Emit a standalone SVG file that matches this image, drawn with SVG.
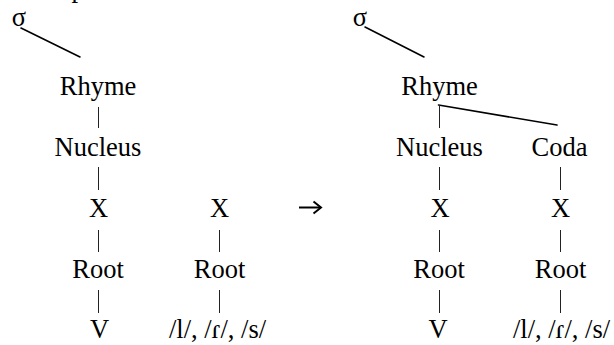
<svg xmlns="http://www.w3.org/2000/svg" width="614" height="345" viewBox="0 0 614 345">
<style>
text{font-family:'Liberation Serif','Times New Roman','DejaVu Serif',serif;font-size:26.5px;fill:#000;text-anchor:middle}
.bar{stroke:#222;stroke-width:1}
.ln{stroke:#000;stroke-width:1.6;stroke-linecap:round}
</style>
<rect width="614" height="345" fill="#fff"/>
<text x="78" y="-3.5">p</text>
<g id="left-tree">
<g id="l-sigma"><text x="19" y="26">σ</text></g>
<g id="l-rhyme"><text x="98" y="95">Rhyme</text></g>
<g id="l-nucleus"><text x="98" y="156">Nucleus</text></g>
<g id="l-x1"><text x="98.5" y="217">X</text></g>
<g id="l-root1"><text x="98" y="278">Root</text></g>
<g id="l-v"><text x="99.5" y="338">V</text></g>
<g id="l-x2"><text x="219.5" y="217">X</text></g>
<g id="l-root2"><text x="219.5" y="278">Root</text></g>
<g id="l-seg"><text x="217.5" y="338">/l/, /ɾ/, /s/</text></g>
</g>
<g id="right-tree">
<g id="r-sigma"><text x="360" y="26">σ</text></g>
<g id="r-rhyme"><text x="439.5" y="95">Rhyme</text></g>
<g id="r-nucleus"><text x="439.5" y="156">Nucleus</text></g>
<g id="r-coda"><text x="559.5" y="156">Coda</text></g>
<g id="r-x1"><text x="440" y="217">X</text></g>
<g id="r-root1"><text x="439" y="278">Root</text></g>
<g id="r-v"><text x="438" y="338">V</text></g>
<g id="r-x2"><text x="560.5" y="217">X</text></g>
<g id="r-root2"><text x="560.5" y="278">Root</text></g>
<g id="r-seg"><text x="561.5" y="338">/l/, /ɾ/, /s/</text></g>
</g>
<g id="connectors">
<line class="ln" x1="21" y1="28" x2="80" y2="57"/>
<line class="ln" x1="365" y1="27" x2="424" y2="57"/>
<line class="ln" x1="438.5" y1="105" x2="557" y2="125"/>
<g class="bar">
<line x1="98.5" y1="107" x2="98.5" y2="128"/>
<line x1="98.5" y1="167" x2="98.5" y2="190"/>
<line x1="98.5" y1="230" x2="98.5" y2="252"/>
<line x1="98.5" y1="290" x2="98.5" y2="313"/>
<line x1="219.5" y1="230" x2="219.5" y2="252"/>
<line x1="219.5" y1="290" x2="219.5" y2="313"/>
<line x1="439.5" y1="105" x2="439.5" y2="128"/>
<line x1="439.5" y1="167" x2="439.5" y2="190"/>
<line x1="439.5" y1="230" x2="439.5" y2="252"/>
<line x1="439.5" y1="290" x2="439.5" y2="313"/>
<line x1="560.5" y1="167" x2="560.5" y2="190"/>
<line x1="560.5" y1="230" x2="560.5" y2="252"/>
<line x1="560.5" y1="290" x2="560.5" y2="313"/>
</g>
<g id="arrow" fill="none" stroke="#000" stroke-width="2">
<line x1="299" y1="207.5" x2="321" y2="207.5"/>
<polyline points="313.5,201.5 321,207.5 313.5,213.5"/>
</g>
</g>
</svg>
